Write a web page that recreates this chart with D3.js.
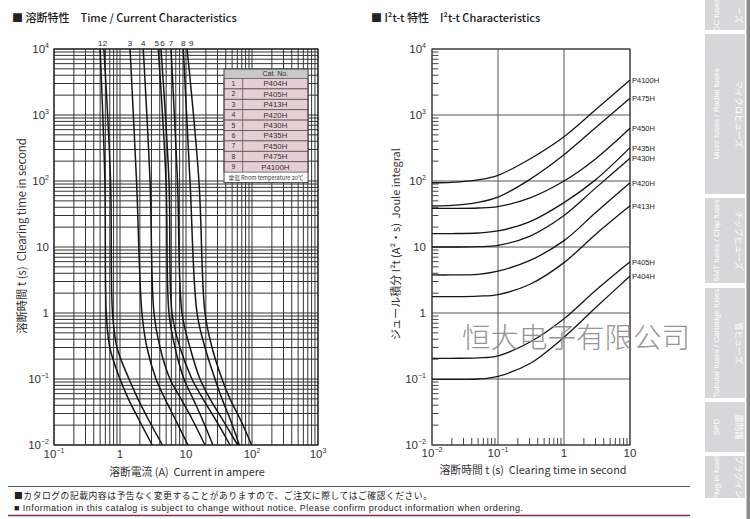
<!DOCTYPE html>
<html>
<head>
<meta charset="utf-8">
<script src="https://cdn.jsdelivr.net/npm/d3@7"></script>
<style>
  body { margin: 0; background: #fff; }
  svg { display: block; }
</style>
</head>
<body>
<div id="chart"></div>
<script>
// ---- data ----

// time / current: clearing time (s) and the current (A) of each fuse at that time
const clearTimes = [10000, 100, 1, 0.3, 0.1, 0.05, 0.025, 0.01]
const currentP404H = [0.50, 0.59, 0.62, 0.70, 1.0, 1.34, 1.90, 3.08]
const currentP405H = [0.57, 0.72, 0.77, 0.90, 1.37, 1.87, 2.66, 4.39]
const currentP413H = [1.42, 1.78, 2.15, 2.56, 3.51, 4.81, 6.81, 10.7]
const currentP420H = [2.25, 2.85, 3.27, 4.04, 5.72, 8.4, 12.3, 19.4]
const currentP430H = [3.80, 4.98, 5.52, 6.81, 9.33, 12.8, 17.5, 25.6]
const currentP435H = [4.18, 5.52, 6.14, 8.11, 12.3, 18.1, 27.5, 46.4]
const currentP450H = [5.93, 7.43, 8.69, 11.5, 16.3, 23.1, 35.1, 60.7]
const currentP475H = [9.1, 11.5, 14.7, 19.4, 27.5, 35.1, 46.4, 64.3]
const currentP4100H = [10.4, 15.7, 19.4, 24.8, 35.1, 46.4, 65.8, 98.9]

// I2t - t: clearing time (s) and Joule integral (A2s)
const jouleTimes = [0.01, 0.02, 0.05, 0.1, 0.3, 1, 3, 10]
const jouleP404H = [0.099, 0.099, 0.1, 0.11, 0.17, 0.43, 1.2, 3.64]
const jouleP405H = [0.206, 0.206, 0.209, 0.225, 0.36, 0.82, 2.2, 6.0]
const jouleP413H = [1.77, 1.77, 1.8, 1.9, 2.7, 5.8, 15.5, 42]
const jouleP420H = [3.77, 3.77, 3.85, 4.3, 6.2, 12.5, 33, 94]
const jouleP430H = [10, 10, 10.1, 10.6, 14.5, 30, 78, 221]
const jouleP435H = [16, 16, 16.3, 17.5, 24, 47, 104, 320]
const jouleP450H = [38.5, 38.5, 39, 41, 55, 100, 216, 628]
const jouleP475H = [42, 42.6, 47.5, 57, 105, 250, 640, 1790]
const jouleP4100H = [94, 95.5, 104, 122, 214, 468, 1200, 3400]

const catNos = ['P404H', 'P405H', 'P413H', 'P420H', 'P430H', 'P435H', 'P450H', 'P475H', 'P4100H']
const curveNums = ['1', '2', '3', '4', '5', '6', '7', '8', '9']
const numNudge = [0, 1, 0, 0, -1.5, 1.5, 0, 0, 4]

const currents = [currentP404H, currentP405H, currentP413H, currentP420H, currentP430H,
  currentP435H, currentP450H, currentP475H, currentP4100H]
const joules = [jouleP404H, jouleP405H, jouleP413H, jouleP420H, jouleP430H,
  jouleP435H, jouleP450H, jouleP475H, jouleP4100H]

const sideTabs = [
  { y0: 0, y1: 30, en: 'DC fuses', jp: 'ーズ' },
  { y0: 34, y1: 194, en: 'Micro fuses / Radial fuses', jp: 'マイクロヒューズ' },
  { y0: 198, y1: 283, en: 'SMT fuses / Chip fuses', jp: 'チップヒューズ' },
  { y0: 288, y1: 398, en: 'Tubular fuses / Cartridge fuses', jp: '管ヒューズ' },
  { y0: 402, y1: 452, en: 'SPD', jp: '雷防護' },
  { y0: 456, y1: 498, en: 'Plug-in fuses', jp: 'プラグイン' }
]

// ---- page ----
const latin = "'Liberation Sans', Arial, sans-serif"
const jp = "'Noto Sans CJK JP', 'Noto Sans', sans-serif"
const sp2 = '\u00a0\u00a0'

const svg = d3
  .select('#chart')
  .append('svg')
  .attr('width', 750)
  .attr('height', 519)

const left = { x0: 54, x1: 318, y0: 49, y1: 445 }
const right = { x0: 432, x1: 630, y0: 49, y1: 445 }

const xCurrent = d3.scaleLog().domain([0.1, 1000]).range([left.x0, left.x1])
const yClear = d3.scaleLog().domain([0.01, 10000]).range([left.y1, left.y0])
const xTime = d3.scaleLog().domain([0.01, 10]).range([right.x0, right.x1])
const yJoule = d3.scaleLog().domain([0.01, 10000]).range([right.y1, right.y0])

const isDecade = v => Math.abs(Math.log10(v) - Math.round(Math.log10(v))) < 1e-6

function powLabel(text, v) {
  const e = Math.round(Math.log10(v))
  if (e === 0) text.text('1')
  else if (e === 1) text.text('10')
  else {
    text.text('10')
    text
      .append('tspan')
      .attr('font-size', 7)
      .attr('dy', -5)
      .text(e < 0 ? '−' + -e : e)
  }
}

// titles
svg.append('text').attr('x', 12).attr('y', 22)
  .attr('font-family', jp).attr('font-size', 11).attr('font-weight', 500).attr('fill', '#222')
  .text('■ 溶断特性\u3000Time / Current Characteristics')
svg.append('text').attr('x', 371).attr('y', 22)
  .attr('font-family', jp).attr('font-size', 11).attr('font-weight', 500).attr('fill', '#222')
  .text('■ I²t-t 特性\u3000I²t-t Characteristics')

// ---- left chart: time / current ----
const gL = svg.append('g')

gL.selectAll('.vgrid')
  .data(xCurrent.ticks())
  .enter()
  .append('line')
  .attr('x1', d => xCurrent(d)).attr('x2', d => xCurrent(d))
  .attr('y1', left.y0).attr('y2', left.y1)
  .attr('stroke', '#333').attr('stroke-width', 1)

gL.selectAll('.hgrid')
  .data(yClear.ticks())
  .enter()
  .append('line')
  .attr('x1', left.x0).attr('x2', left.x1)
  .attr('y1', d => yClear(d)).attr('y2', d => yClear(d))
  .attr('stroke', '#333').attr('stroke-width', 1)

gL.append('rect')
  .attr('x', left.x0).attr('y', left.y0)
  .attr('width', left.x1 - left.x0).attr('height', left.y1 - left.y0)
  .attr('fill', 'none').attr('stroke', '#222').attr('stroke-width', 1.2)

const lineTC = d3
  .line()
  .x(d => xCurrent(d[0]))
  .y(d => yClear(d[1]))
  .curve(d3.curveCatmullRom.alpha(0.5))

gL.selectAll('.tc-curve')
  .data(currents)
  .enter()
  .append('path')
  .attr('d', c => lineTC(c.map((v, i) => [v, clearTimes[i]])))
  .attr('fill', 'none')
  .attr('stroke', '#161616')
  .attr('stroke-width', 1.5)

gL.selectAll('.curve-num')
  .data(curveNums)
  .enter()
  .append('text')
  .attr('x', (d, i) => xCurrent(currents[i][0]) + numNudge[i])
  .attr('y', 46)
  .attr('text-anchor', 'middle')
  .attr('font-family', latin).attr('font-size', 8).attr('fill', '#222')
  .text(d => d)

// legend table
const tab = { x: 224, y: 69, w: 84, col: 18.7, head: 9.5, row: 10.4 }
const gT = gL.append('g')
gT.append('rect').attr('x', tab.x).attr('y', tab.y).attr('width', tab.w)
  .attr('height', tab.head + tab.row * 9 + 10.5).attr('fill', '#fff')
gT.append('rect').attr('x', tab.x).attr('y', tab.y).attr('width', tab.w).attr('height', tab.head)
  .attr('fill', '#c8c8c8')
gT.append('text').attr('x', tab.x + tab.col + (tab.w - tab.col) / 2).attr('y', tab.y + 7.4)
  .attr('text-anchor', 'middle').attr('font-family', latin).attr('font-size', 7).attr('fill', '#333')
  .text('Cat. No.')
const rows = gT.selectAll('.row')
  .data(catNos)
  .enter()
  .append('g')
  .attr('transform', (d, i) => `translate(${tab.x},${tab.y + tab.head + i * tab.row})`)
rows.append('rect').attr('width', tab.w).attr('height', tab.row)
  .attr('fill', '#e6ced4').attr('stroke', '#555').attr('stroke-width', 0.8)
rows.append('line').attr('x1', tab.col).attr('x2', tab.col).attr('y1', 0).attr('y2', tab.row)
  .attr('stroke', '#555').attr('stroke-width', 0.8)
rows.append('text').attr('x', tab.col / 2).attr('y', 7.6).attr('text-anchor', 'middle')
  .attr('font-family', latin).attr('font-size', 7).attr('fill', '#333')
  .text((d, i) => curveNums[i])
rows.append('text').attr('x', tab.col + (tab.w - tab.col) / 2).attr('y', 7.9).attr('text-anchor', 'middle')
  .attr('font-family', latin).attr('font-size', 7.8).attr('fill', '#333')
  .text(d => d)
gT.append('rect').attr('x', tab.x).attr('y', tab.y).attr('width', tab.w)
  .attr('height', tab.head + tab.row * 9 + 10.5)
  .attr('fill', 'none').attr('stroke', '#444').attr('stroke-width', 1)
gT.append('text').attr('x', tab.x + tab.w / 2).attr('y', tab.y + tab.head + tab.row * 9 + 7.8)
  .attr('text-anchor', 'middle').attr('font-family', jp).attr('font-size', 5.6).attr('fill', '#333')
  .text('常温 Room temperature 20℃')

// left axes labels
gL.selectAll('.ylab')
  .data(yClear.ticks().filter(isDecade))
  .enter()
  .append('text')
  .attr('x', left.x0 - 5)
  .attr('y', d => yClear(d) + 4)
  .attr('text-anchor', 'end')
  .attr('font-family', latin).attr('font-size', 11.5).attr('fill', '#333')
  .each(function (d) { powLabel(d3.select(this), d) })

gL.selectAll('.xlab')
  .data(xCurrent.ticks().filter(isDecade))
  .enter()
  .append('text')
  .attr('x', d => xCurrent(d))
  .attr('y', 458)
  .attr('text-anchor', 'middle')
  .attr('font-family', latin).attr('font-size', 11.5).attr('fill', '#333')
  .each(function (d) { powLabel(d3.select(this), d) })

gL.append('text').attr('x', 187).attr('y', 476).attr('text-anchor', 'middle')
  .attr('font-family', jp).attr('font-size', 10.8).attr('fill', '#333')
  .text('溶断電流 (A)' + sp2 + 'Current in ampere')
gL.append('text').attr('transform', 'translate(26,236) rotate(-90)').attr('text-anchor', 'middle')
  .attr('font-family', jp).attr('font-size', 11.3).attr('fill', '#333')
  .text('溶断時間 t (s)' + sp2 + 'Clearing time in second')

// ---- right chart: I2t - t ----
const gR = svg.append('g')

gR.selectAll('.vmaj')
  .data(xTime.ticks().filter(isDecade))
  .enter()
  .append('line')
  .attr('x1', d => xTime(d)).attr('x2', d => xTime(d))
  .attr('y1', right.y0).attr('y2', right.y1)
  .attr('stroke', '#555').attr('stroke-width', 1)

gR.selectAll('.hmaj')
  .data(yJoule.ticks().filter(isDecade))
  .enter()
  .append('line')
  .attr('x1', right.x0).attr('x2', right.x1)
  .attr('y1', d => yJoule(d)).attr('y2', d => yJoule(d))
  .attr('stroke', '#555').attr('stroke-width', 1)

gR.selectAll('.ytick')
  .data(yJoule.ticks().filter(d => !isDecade(d)))
  .enter()
  .append('line')
  .attr('x1', right.x0).attr('x2', right.x0 + 6.5)
  .attr('y1', d => yJoule(d)).attr('y2', d => yJoule(d))
  .attr('stroke', '#444').attr('stroke-width', 1)

gR.selectAll('.xtick')
  .data(xTime.ticks().filter(d => !isDecade(d)))
  .enter()
  .append('line')
  .attr('x1', d => xTime(d)).attr('x2', d => xTime(d))
  .attr('y1', right.y1).attr('y2', right.y1 - 7)
  .attr('stroke', '#444').attr('stroke-width', 1)

gR.append('rect')
  .attr('x', right.x0).attr('y', right.y0)
  .attr('width', right.x1 - right.x0).attr('height', right.y1 - right.y0)
  .attr('fill', 'none').attr('stroke', '#444').attr('stroke-width', 1.2)

const lineJ = d3
  .line()
  .x(d => xTime(d[0]))
  .y(d => yJoule(d[1]))
  .curve(d3.curveCatmullRom.alpha(0.5))

gR.selectAll('.j-curve')
  .data(joules)
  .enter()
  .append('path')
  .attr('d', c => lineJ(c.map((v, i) => [jouleTimes[i], v])))
  .attr('fill', 'none')
  .attr('stroke', '#161616')
  .attr('stroke-width', 1.3)

gR.selectAll('.j-name')
  .data(catNos)
  .enter()
  .append('text')
  .attr('x', right.x1 + 2)
  .attr('y', (d, i) => yJoule(joules[i][joules[i].length - 1]) + 3)
  .attr('font-family', latin).attr('font-size', 7.5).attr('fill', '#222')
  .text(d => d)

gR.selectAll('.ylab')
  .data(yJoule.ticks().filter(isDecade))
  .enter()
  .append('text')
  .attr('x', right.x0 - 6)
  .attr('y', d => yJoule(d) + 4)
  .attr('text-anchor', 'end')
  .attr('font-family', latin).attr('font-size', 11.5).attr('fill', '#333')
  .each(function (d) { powLabel(d3.select(this), d) })

gR.selectAll('.xlab')
  .data(xTime.ticks().filter(isDecade))
  .enter()
  .append('text')
  .attr('x', d => xTime(d))
  .attr('y', 457)
  .attr('text-anchor', 'middle')
  .attr('font-family', latin).attr('font-size', 11.5).attr('fill', '#333')
  .each(function (d) { powLabel(d3.select(this), d) })

gR.append('text').attr('x', 533).attr('y', 474).attr('text-anchor', 'middle')
  .attr('font-family', jp).attr('font-size', 10.8).attr('fill', '#333')
  .text('溶断時間 t (s)' + sp2 + 'Clearing time in second')
gR.append('text').attr('transform', 'translate(400,244) rotate(-90)').attr('text-anchor', 'middle')
  .attr('font-family', jp).attr('font-size', 11).attr('fill', '#333')
  .text('ジュール積分 I²t (A²・s)' + sp2 + 'Joule integral')

// watermark
svg.append('text').attr('x', 462).attr('y', 348)
  .attr('font-family', "'Noto Sans CJK SC', sans-serif").attr('font-weight', 300)
  .attr('font-size', 28.5).attr('fill', '#8a8a8a').attr('opacity', 0.9)
  .attr('textLength', 228)
  .text('恒大电子有限公司')

// ---- footer ----
svg.append('line').attr('x1', 8).attr('x2', 690).attr('y1', 486.5).attr('y2', 486.5)
  .attr('stroke', '#555').attr('stroke-width', 1)
svg.append('text').attr('x', 14).attr('y', 498.5)
  .attr('font-family', jp).attr('font-size', 8.8).attr('fill', '#222')
  .attr('textLength', 418)
  .text('■カタログの記載内容は予告なく変更することがありますので、ご注文に際してはご確認ください。')
svg.append('text').attr('x', 14).attr('y', 511)
  .attr('font-family', "'Liberation Sans Narrow', 'Liberation Sans', sans-serif").attr('font-size', 9)
  .attr('fill', '#222').attr('textLength', 509)
  .text('■ Information in this catalog is subject to change without notice. Please confirm product information when ordering.')
svg.append('line').attr('x1', 8).attr('x2', 690).attr('y1', 515.5).attr('y2', 515.5)
  .attr('stroke', '#8e2a3c').attr('stroke-width', 1.3)

// ---- side tabs ----
const gS = svg.append('g')
gS.append('rect').attr('x', 746.5).attr('y', 0).attr('width', 3.5).attr('height', 519).attr('fill', '#8c8c8c')
const tabs = gS.selectAll('.tab')
  .data(sideTabs)
  .enter()
  .append('g')
tabs.append('rect')
  .attr('x', 705).attr('y', d => d.y0)
  .attr('width', 40).attr('height', d => d.y1 - d.y0)
  .attr('fill', '#d7d7d9')
tabs.append('text')
  .attr('transform', d => `translate(719,${(d.y0 + d.y1) / 2}) rotate(-90)`)
  .attr('text-anchor', 'middle')
  .attr('font-family', latin).attr('font-size', 8).attr('fill', '#fff')
  .text(d => d.en)
tabs.append('text')
  .attr('transform', d => `translate(736,${(d.y0 + d.y1) / 2}) rotate(90)`)
  .attr('text-anchor', 'middle')
  .attr('font-family', jp).attr('font-size', 8.5).attr('fill', '#fff')
  .text(d => d.jp)
</script>
</body>
</html>
